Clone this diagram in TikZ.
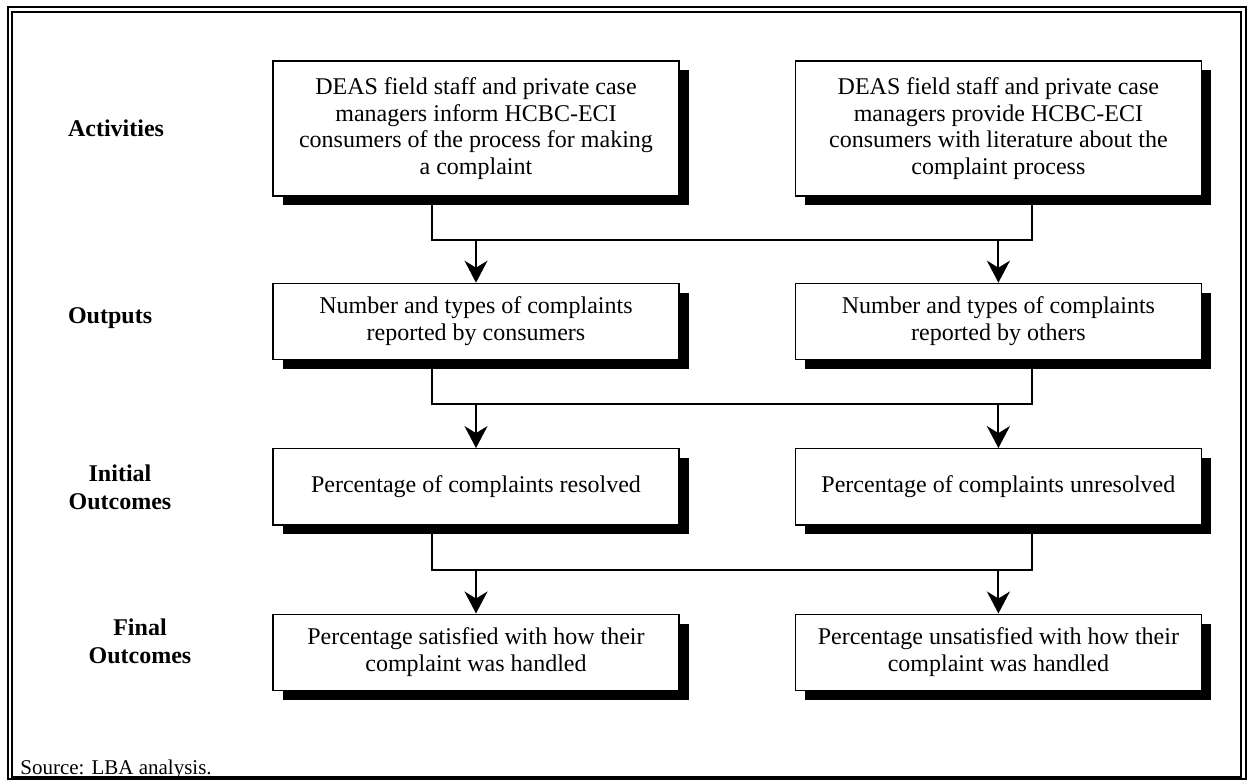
\documentclass[tikz,border=0pt]{standalone}
\usepackage{fontspec}
\setmainfont{Liberation Serif}
\usepackage{tikz}
\usetikzlibrary{arrows.meta, positioning, shadows, calc}

\begin{document}
\begin{tikzpicture}[
    x=0.5pt, y=-0.5pt,
    node distance=44pt and 57.5pt,
    stage/.style={
        rectangle, draw=black, line width=0.7pt, fill=white,
        font=\fontsize{12}{13.35}\selectfont,
        minimum width=203pt, minimum height=38pt,
        inner sep=2pt, align=center,
        drop shadow={shadow xshift=4.75pt, shadow yshift=-4.75pt,
                     fill=black, opacity=1}
    },
    conn/.style={line width=1pt, color=black},
    arr/.style={-{Stealth[length=11pt, width=11.5pt, inset=3.5pt]},
                line width=1pt, color=black},
    lab/.style={font=\fontsize{12}{14}\selectfont\bfseries, align=center},
    frame/.style={line width=1pt, color=black}
]
\useasboundingbox (0,0) rectangle (1253,780);

% frame
\draw[frame] (7.5,7.3) rectangle (1245.7,778.8);
\draw[frame] (12.3,12.3) rectangle (1241,777);

% boxes
\node[stage, minimum height=67.5pt] (act1) at (476,128.5)
    {DEAS field staff and private case\\managers inform HCBC-ECI\\consumers of the process for making\\a complaint};
\node[stage, minimum height=67.5pt, right=of act1] (act2)
    {DEAS field staff and private case\\managers provide HCBC-ECI\\consumers with literature about the\\complaint process};
\node[stage, below=43pt of act1] (out1) {Number and types of complaints\\reported by consumers};
\node[stage, below=43pt of act2] (out2) {Number and types of complaints\\reported by others};
\node[stage, below=of out1] (ini1) {Percentage of complaints resolved};
\node[stage, below=of out2] (ini2) {Percentage of complaints unresolved};
\node[stage, below=of ini1] (fin1) {Percentage satisfied with how their\\complaint was handled};
\node[stage, below=of ini2] (fin2) {Percentage unsatisfied with how their\\complaint was handled};

% row labels
\node[lab, anchor=west] (lact) at (61,128) {Activities};
\node[lab, anchor=west] (lout) at (61,318) {Outputs};
\node[lab] (lini) at (120,487) {Initial\\Outcomes};
\node[lab] (lfin) at (140,641) {Final\\Outcomes};

% connectors
\foreach \a/\b [count=\i] in {act/out, out/ini, ini/fin} {
    \coordinate (j\i) at ($(\a1.south)!0.5!(\b1.north)$);
    \draw[conn] ([xshift=-22pt]\a1.south) |- (j\i) -| ([xshift=16.75pt]\a2.south);
    \draw[arr] (j\i) -- (\b1.north);
    \draw[arr] (\b2.north |- j\i) -- (\b2.north);
}

\node[anchor=base west, font=\fontsize{10.5}{12}\selectfont, inner sep=0pt] (src) at (20,774) {Source: LBA analysis.};

\end{tikzpicture}
\end{document}
